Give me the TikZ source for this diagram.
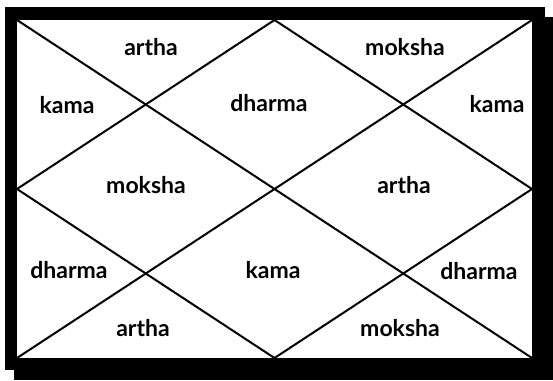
\documentclass[tikz,border=0pt]{standalone}
\usepackage{fontspec}
\setmainfont{Lato}
\begin{document}
\begin{tikzpicture}[x=1pt,y=-1pt,
  lbl/.style={font=\fontsize{23}{26}\selectfont\bfseries, inner sep=0pt},
  chartline/.style={line width=2pt, line cap=round}]
\useasboundingbox (0,0) rectangle (553,380);
% shadow, frame and white field
\fill[black] (14,17) rectangle (553,380);
\fill[black] (5,7) rectangle (545,370);
\fill[white] (17,20) rectangle (532,358);
% corners and midpoints
\coordinate (TL) at (17,20);
\coordinate (TR) at (532,20);
\coordinate (BL) at (17,358);
\coordinate (BR) at (532,358);
\coordinate (T) at (274.5,20);
\coordinate (B) at (274.5,358);
\coordinate (L) at (17,189);
\coordinate (R) at (532,189);
\draw[chartline] (TL) -- (BR);
\draw[chartline] (TR) -- (BL);
\draw[chartline] (T) -- (L) -- (B) -- (R) -- cycle;
% labels
\node[lbl] (a1) at (151,47) {artha};
\node[lbl] (m1) at (405,47) {moksha};
\node[lbl] (k1) at (67,105) {kama};
\node[lbl] (d1) at (269,103) {dharma};
\node[lbl] (k2) at (497,104) {kama};
\node[lbl] (m2) at (146,185) {moksha};
\node[lbl] (a2) at (404,185) {artha};
\node[lbl] (d2) at (69,270) {dharma};
\node[lbl] (k3) at (273,270) {kama};
\node[lbl] (d3) at (479,271) {dharma};
\node[lbl] (a3) at (143,328) {artha};
\node[lbl] (m3) at (400,328) {moksha};
\end{tikzpicture}
\end{document}
